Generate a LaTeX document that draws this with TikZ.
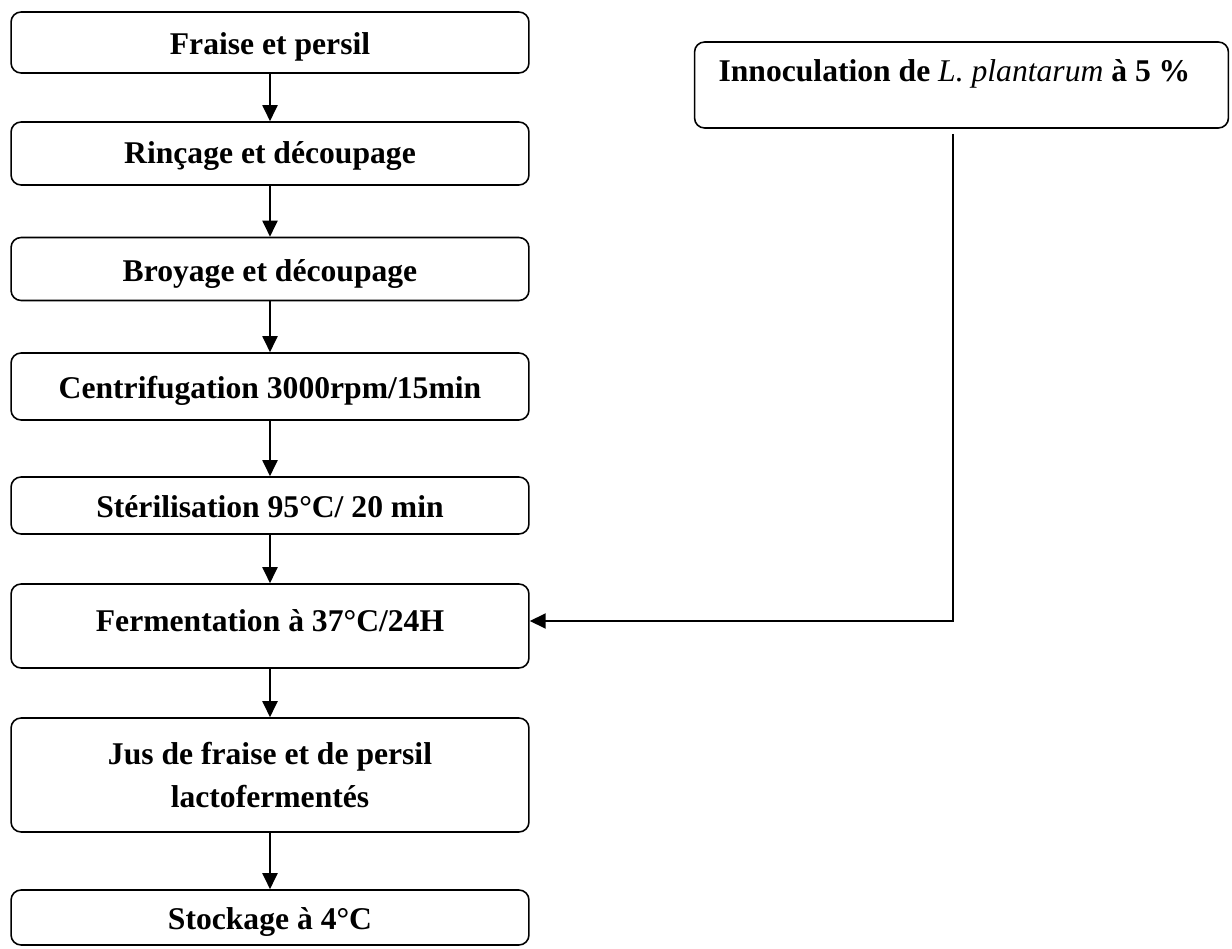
\documentclass[tikz,border=0pt]{standalone}
\usepackage{fontspec}
\setmainfont{Liberation Serif}
\usetikzlibrary{arrows.meta, positioning}

\begin{document}
\begin{tikzpicture}[x=0.02cm, y=-0.02cm,
    >={Triangle[length=0.32cm, width=0.3cm]},
    stepbox/.style={draw, line width=0.9pt, rounded corners=0.2cm,
      minimum width=10.36cm, inner sep=0pt, align=center,
      text height=0.55cm, text depth=0.05cm,
      font=\fontsize{18}{24}\selectfont\bfseries},
    flow/.style={->, line width=1.1pt}]
  \useasboundingbox (0,0) rectangle (1232,949);

  % Main chain
  \node[stepbox, minimum height=1.22cm] (fraise) at (270,42.5) {Fraise et persil};
  \node[stepbox, minimum height=1.26cm, text height=0.5cm, text depth=0.1cm]
    (rincage) at (270,153.5) {Rinçage et découpage};
  \node[stepbox, minimum height=1.26cm] (broyage) at (270,269) {Broyage et découpage};
  \node[stepbox, minimum height=1.34cm] (centri) at (270,386.5) {Centrifugation 3000rpm/15min};
  \node[stepbox, minimum height=1.14cm] (steril) at (270,505.5) {Stérilisation 95°C/ 20 min};
  \node[stepbox, minimum height=1.68cm, text height=0.45cm, text depth=0.24cm]
    (ferm) at (270,626) {Fermentation à 37°C/24H};
  \node[stepbox, minimum height=2.28cm, text height=, text depth=] (jus) at (270,775)
    {Jus de fraise et de persil\\lactofermentés};
  \node[stepbox, minimum height=1.1cm] (stock) at (270,917.5) {Stockage à 4°C};

  \draw[flow] (fraise) -- (rincage);
  \draw[flow] (rincage) -- (broyage);
  \draw[flow] (broyage) -- (centri);
  \draw[flow] (centri) -- (steril);
  \draw[flow] (steril) -- (ferm);
  \draw[flow] (ferm) -- (jus);
  \draw[flow] (jus) -- (stock);

  % Inoculum
  \node[stepbox, minimum height=1.72cm, inner xsep=0.48cm, text width=9.72cm,
    align=flush left, text height=0.45cm, text depth=0.6cm]
    (inoc) at (961.5,85) {Innoculation de \textit{\mdseries L. plantarum} à 5 \%};
  \coordinate (corner) at (953,621);
  \draw[flow] ([yshift=-0.1cm]inoc.south -| corner) -- (corner) -- (corner -| ferm.east);
\end{tikzpicture}
\end{document}
